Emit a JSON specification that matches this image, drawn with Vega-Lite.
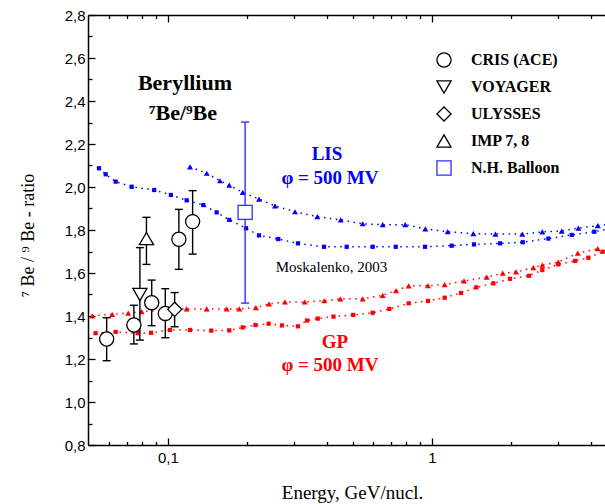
{
"$schema":"https://vega.github.io/schema/vega-lite/v6.json",
"width":517,"height":430,
"autosize":"none",
"padding":{"left":88,"top":15,"right":0,"bottom":59},
"background":"white",
"config":{"view":{"stroke":null},"axis":{"grid":false,"tickColor":"black","domainColor":"black","labelColor":"black","titleColor":"black"}},
"datasets":{
"curves":[
{"series":"LIS-sq","E":0.0548,"ratio":2.087},{"series":"LIS-sq","E":0.0581,"ratio":2.059},{"series":"LIS-sq","E":0.0634,"ratio":2.025},{"series":"LIS-sq","E":0.0729,"ratio":2.001},{"series":"LIS-sq","E":0.0887,"ratio":1.986},{"series":"LIS-sq","E":0.1026,"ratio":1.963},{"series":"LIS-sq","E":0.1177,"ratio":1.938},{"series":"LIS-sq","E":0.1361,"ratio":1.916},{"series":"LIS-sq","E":0.1529,"ratio":1.882},{"series":"LIS-sq","E":0.1707,"ratio":1.847},{"series":"LIS-sq","E":0.1975,"ratio":1.808},{"series":"LIS-sq","E":0.2212,"ratio":1.775},{"series":"LIS-sq","E":0.2617,"ratio":1.758},{"series":"LIS-sq","E":0.3108,"ratio":1.738},{"series":"LIS-sq","E":0.39,"ratio":1.722},{"series":"LIS-sq","E":0.4752,"ratio":1.722},{"series":"LIS-sq","E":0.5962,"ratio":1.722},{"series":"LIS-sq","E":0.7288,"ratio":1.722},{"series":"LIS-sq","E":0.9408,"ratio":1.722},{"series":"LIS-sq","E":1.1874,"ratio":1.727},{"series":"LIS-sq","E":1.4425,"ratio":1.733},{"series":"LIS-sq","E":1.8095,"ratio":1.738},{"series":"LIS-sq","E":2.2062,"ratio":1.743},{"series":"LIS-sq","E":2.7579,"ratio":1.76},{"series":"LIS-sq","E":3.3816,"ratio":1.777},{"series":"LIS-sq","E":4.1192,"ratio":1.792},{"series":"LIS-sq","E":4.9,"ratio":1.81},
{"series":"LIS-tri","E":0.1212,"ratio":2.094},{"series":"LIS-tri","E":0.1402,"ratio":2.064},{"series":"LIS-tri","E":0.1574,"ratio":2.029},{"series":"LIS-tri","E":0.1707,"ratio":2.009},{"series":"LIS-tri","E":0.1919,"ratio":1.975},{"series":"LIS-tri","E":0.2212,"ratio":1.944},{"series":"LIS-tri","E":0.2543,"ratio":1.912},{"series":"LIS-tri","E":0.3028,"ratio":1.885},{"series":"LIS-tri","E":0.3677,"ratio":1.862},{"series":"LIS-tri","E":0.451,"ratio":1.847},{"series":"LIS-tri","E":0.5464,"ratio":1.829},{"series":"LIS-tri","E":0.6506,"ratio":1.825},{"series":"LIS-tri","E":0.792,"ratio":1.825},{"series":"LIS-tri","E":0.9432,"ratio":1.805},{"series":"LIS-tri","E":1.1467,"ratio":1.792},{"series":"LIS-tri","E":1.4337,"ratio":1.783},{"series":"LIS-tri","E":1.7373,"ratio":1.781},{"series":"LIS-tri","E":2.198,"ratio":1.781},{"series":"LIS-tri","E":2.6167,"ratio":1.791},{"series":"LIS-tri","E":3.0989,"ratio":1.795},{"series":"LIS-tri","E":3.5826,"ratio":1.809},{"series":"LIS-tri","E":4.2431,"ratio":1.82},{"series":"LIS-tri","E":4.9,"ratio":1.83},
{"series":"GP-tri","E":0.0517,"ratio":1.4},{"series":"GP-tri","E":0.0615,"ratio":1.408},{"series":"GP-tri","E":0.0707,"ratio":1.413},{"series":"GP-tri","E":0.0795,"ratio":1.42},{"series":"GP-tri","E":0.0966,"ratio":1.426},{"series":"GP-tri","E":0.1177,"ratio":1.433},{"series":"GP-tri","E":0.1402,"ratio":1.433},{"series":"GP-tri","E":0.1669,"ratio":1.433},{"series":"GP-tri","E":0.1862,"ratio":1.433},{"series":"GP-tri","E":0.2154,"ratio":1.439},{"series":"GP-tri","E":0.2413,"ratio":1.456},{"series":"GP-tri","E":0.2774,"ratio":1.465},{"series":"GP-tri","E":0.3296,"ratio":1.465},{"series":"GP-tri","E":0.3909,"ratio":1.471},{"series":"GP-tri","E":0.4494,"ratio":1.48},{"series":"GP-tri","E":0.5464,"ratio":1.48},{"series":"GP-tri","E":0.6506,"ratio":1.496},{"series":"GP-tri","E":0.7305,"ratio":1.518},{"series":"GP-tri","E":0.8161,"ratio":1.54},{"series":"GP-tri","E":0.9657,"ratio":1.541},{"series":"GP-tri","E":1.117,"ratio":1.546},{"series":"GP-tri","E":1.3219,"ratio":1.563},{"series":"GP-tri","E":1.6113,"ratio":1.581},{"series":"GP-tri","E":1.8526,"ratio":1.599},{"series":"GP-tri","E":2.0804,"ratio":1.605},{"series":"GP-tri","E":2.4196,"ratio":1.625},{"series":"GP-tri","E":2.6167,"ratio":1.637},{"series":"GP-tri","E":3.0081,"ratio":1.651},{"series":"GP-tri","E":3.5638,"ratio":1.692},{"series":"GP-tri","E":4.2431,"ratio":1.713},
{"series":"GP-sq","E":0.0532,"ratio":1.32},{"series":"GP-sq","E":0.0634,"ratio":1.326},{"series":"GP-sq","E":0.0768,"ratio":1.32},{"series":"GP-sq","E":0.0863,"ratio":1.322},{"series":"GP-sq","E":0.1018,"ratio":1.335},{"series":"GP-sq","E":0.1212,"ratio":1.335},{"series":"GP-sq","E":0.1459,"ratio":1.332},{"series":"GP-sq","E":0.1707,"ratio":1.333},{"series":"GP-sq","E":0.1919,"ratio":1.347},{"series":"GP-sq","E":0.2145,"ratio":1.358},{"series":"GP-sq","E":0.2406,"ratio":1.364},{"series":"GP-sq","E":0.2703,"ratio":1.356},{"series":"GP-sq","E":0.3108,"ratio":1.352},{"series":"GP-sq","E":0.3362,"ratio":1.379},{"series":"GP-sq","E":0.3693,"ratio":1.388},{"series":"GP-sq","E":0.4235,"ratio":1.397},{"series":"GP-sq","E":0.5033,"ratio":1.405},{"series":"GP-sq","E":0.5962,"ratio":1.415},{"series":"GP-sq","E":0.689,"ratio":1.433},{"series":"GP-sq","E":0.8161,"ratio":1.459},{"series":"GP-sq","E":0.9657,"ratio":1.47},{"series":"GP-sq","E":1.117,"ratio":1.485},{"series":"GP-sq","E":1.2877,"ratio":1.507},{"series":"GP-sq","E":1.4716,"ratio":1.533},{"series":"GP-sq","E":1.7072,"ratio":1.552},{"series":"GP-sq","E":1.9744,"ratio":1.573},{"series":"GP-sq","E":2.3305,"ratio":1.587},{"series":"GP-sq","E":2.6167,"ratio":1.614},{"series":"GP-sq","E":3.0081,"ratio":1.64},{"series":"GP-sq","E":3.4811,"ratio":1.656},{"series":"GP-sq","E":3.9084,"ratio":1.671},{"series":"GP-sq","E":4.4318,"ratio":1.699}
],
"obs":[
{"instrument":"CRIS (ACE)","E":0.0586,"ratio":1.293,"lo":1.192,"hi":1.392},
{"instrument":"CRIS (ACE)","E":0.0743,"ratio":1.358,"lo":1.27,"hi":1.45},
{"instrument":"CRIS (ACE)","E":0.0868,"ratio":1.462,"lo":1.355,"hi":1.567},
{"instrument":"CRIS (ACE)","E":0.0977,"ratio":1.412,"lo":1.299,"hi":1.527},
{"instrument":"CRIS (ACE)","E":0.11,"ratio":1.757,"lo":1.617,"hi":1.896},
{"instrument":"CRIS (ACE)","E":0.124,"ratio":1.839,"lo":1.688,"hi":1.983},
{"instrument":"VOYAGER","E":0.0783,"ratio":1.5,"lo":1.288,"hi":1.718},
{"instrument":"ULYSSES","E":0.106,"ratio":1.431,"lo":1.35,"hi":1.509},
{"instrument":"IMP 7, 8","E":0.0829,"ratio":1.76,"lo":1.64,"hi":1.859},
{"instrument":"N.H. Balloon","E":0.196,"ratio":1.882,"lo":1.46,"hi":2.302}
],
"txtBlack":[{"E":0.116,"ratio":2.484,"label":"Beryllium"},{"E":0.114,"ratio":2.344,"label":"⁷Be/⁹Be"}],
"txtBlue":[{"E":0.4002,"ratio":2.153,"label":"LIS"},{"E":0.4108,"ratio":2.042,"label":"φ = 500 MV"}],
"txtRed":[{"E":0.4292,"ratio":1.28,"label":"GP"},{"E":0.4108,"ratio":1.172,"label":"φ = 500 MV"}],
"txtRef":[{"E":0.4163,"ratio":1.629,"label":"Moskalenko, 2003"}]
},
"resolve":{"axis":{"x":"independent","y":"independent"}},
"layer":[
{"data":{"name":"curves"},
 "mark":{"type":"line","strokeDash":[1.5,4.5],"strokeWidth":1.5,"clip":true},
 "encoding":{
  "x":{"field":"E","type":"quantitative","scale":{"type":"log","domain":[0.0498,4.52],"nice":false,"zero":false},
       "axis":{"orient":"bottom","values":[0.1,1],"labelExpr":"datum.value < 0.5 ? '0,1' : '1'","tickSize":-7,"tickWidth":1.3,"domainWidth":1.5,"labelFont":"Liberation Sans","labelFontSize":15,"labelPadding":12,"labelFlush":false,"labelOverlap":false,
               "title":"Energy, GeV/nucl.","titleFont":"Liberation Serif","titleFontSize":19,"titleFontWeight":"normal","titleX":264,"titleY":53,"titleBaseline":"alphabetic","titleAlign":"center","titleAnchor":null}},
  "y":{"field":"ratio","type":"quantitative","scale":{"domain":[0.8,2.8],"nice":false,"zero":false},
       "axis":{"orient":"left","values":[0.8,1.0,1.2,1.4,1.6,1.8,2.0,2.2,2.4,2.6,2.8],"labelExpr":"replace(format(datum.value,'.1f'),'.',',')","tickSize":-7,"tickWidth":1.3,"domainWidth":1.5,"labelFont":"Liberation Sans","labelFontSize":15,"labelPadding":10,"labelFlush":false,"labelOverlap":false,
               "title":"⁷ Be / ⁹ Be - ratio","titleFont":"Liberation Serif","titleFontSize":18,"titleFontWeight":"normal","titleX":-60,"titleY":220,"titleAngle":-90,"titleBaseline":"middle","titleAlign":"center"}},
  "color":{"field":"series","type":"nominal","scale":{"domain":["LIS-sq","LIS-tri","GP-tri","GP-sq"],"range":["#0000ff","#0000ff","#ff0000","#ff0000"]},"legend":null},
  "detail":{"field":"series"}
 }},
{"data":{"name":"curves"},
 "transform":[{"filter":"indexof(datum.series,'tri') >= 0"}],
 "mark":{"type":"point","shape":"triangle-up","filled":true,"size":36,"opacity":1,"clip":true},
 "encoding":{
  "x":{"field":"E","type":"quantitative","scale":{"type":"log","domain":[0.0498,4.52],"nice":false,"zero":false},
       "axis":{"orient":"top","values":[0.1,1],"labels":false,"tickSize":-7,"tickWidth":1.3,"domainWidth":1.5,"title":null}},
  "y":{"field":"ratio","type":"quantitative","scale":{"domain":[0.8,2.8],"nice":false,"zero":false},
       "axis":{"orient":"left","values":[0.9,1.1,1.3,1.5,1.7,1.9,2.1,2.3,2.5,2.7],"labels":false,"domain":false,"tickSize":-4,"tickWidth":1.3,"title":null}},
  "color":{"field":"series","type":"nominal","legend":null}
 }},
{"data":{"name":"curves"},
 "transform":[{"filter":"indexof(datum.series,'sq') >= 0"}],
 "mark":{"type":"point","shape":"square","filled":true,"size":18,"opacity":1,"clip":true},
 "encoding":{
  "x":{"field":"E","type":"quantitative","scale":{"type":"log","domain":[0.0498,4.52],"nice":false,"zero":false},
       "axis":{"orient":"bottom","values":[0.06,0.07,0.08,0.09,0.2,0.3,0.4,0.5,0.6,0.7,0.8,0.9,2,3,4],"labels":false,"domain":false,"tickSize":-3.5,"tickWidth":1.3,"title":null}},
  "y":{"field":"ratio","type":"quantitative","scale":{"domain":[0.8,2.8],"nice":false,"zero":false},"axis":null},
  "color":{"field":"series","type":"nominal","legend":null}
 }},
{"data":{"name":"obs"},
 "mark":{"type":"rule","strokeWidth":1.4},
 "encoding":{
  "x":{"field":"E","type":"quantitative","scale":{"type":"log","domain":[0.0498,4.52],"nice":false,"zero":false},
       "axis":{"orient":"top","values":[0.06,0.07,0.08,0.09,0.2,0.3,0.4,0.5,0.6,0.7,0.8,0.9,2,3,4],"labels":false,"domain":false,"tickSize":-3.5,"tickWidth":1.3,"title":null}},
  "y":{"field":"lo","type":"quantitative","scale":{"domain":[0.8,2.8],"nice":false,"zero":false},"axis":null},
  "y2":{"field":"hi"},
  "strokeOpacity":{"value":1},
  "stroke":{"condition":{"test":"datum.instrument == 'N.H. Balloon'","value":"#2f2fff"},"value":"black"}
 }},
{"data":{"name":"obs"},
 "mark":{"type":"tick","orient":"horizontal","size":8,"thickness":1.4,"opacity":1},
 "encoding":{
  "x":{"field":"E","type":"quantitative","scale":{"type":"log","domain":[0.0498,4.52],"nice":false,"zero":false},"axis":null},
  "y":{"field":"hi","type":"quantitative","scale":{"domain":[0.8,2.8],"nice":false,"zero":false},"axis":null},
  "fill":{"condition":{"test":"datum.instrument == 'N.H. Balloon'","value":"#2f2fff"},"value":"black"}
 }},
{"data":{"name":"obs"},
 "mark":{"type":"tick","orient":"horizontal","size":8,"thickness":1.4,"opacity":1},
 "encoding":{
  "x":{"field":"E","type":"quantitative","scale":{"type":"log","domain":[0.0498,4.52],"nice":false,"zero":false},"axis":null},
  "y":{"field":"lo","type":"quantitative","scale":{"domain":[0.8,2.8],"nice":false,"zero":false},"axis":null},
  "fill":{"condition":{"test":"datum.instrument == 'N.H. Balloon'","value":"#2f2fff"},"value":"black"}
 }},
{"data":{"name":"obs"},
 "mark":{"type":"point","fill":"white","filled":false,"size":200,"strokeWidth":1.3,"opacity":1},
 "encoding":{
  "x":{"field":"E","type":"quantitative","scale":{"type":"log","domain":[0.0498,4.52],"nice":false,"zero":false},"axis":null},
  "y":{"field":"ratio","type":"quantitative","scale":{"domain":[0.8,2.8],"nice":false,"zero":false},"axis":null},
  "shape":{"field":"instrument","type":"nominal","scale":{"domain":["CRIS (ACE)","VOYAGER","ULYSSES","IMP 7, 8","N.H. Balloon"],"range":["circle","triangle-down","diamond","triangle-up","square"]},
     "legend":{"orient":"none","legendX":348,"legendY":37,"title":null,"labelFont":"Liberation Serif","labelFontSize":16,"labelFontWeight":"bold","labelColor":"black","labelOffset":19,"rowPadding":8,"symbolSize":200,"symbolStrokeWidth":1.3,"symbolFillColor":"white","padding":0}},
  "stroke":{"field":"instrument","type":"nominal","scale":{"domain":["CRIS (ACE)","VOYAGER","ULYSSES","IMP 7, 8","N.H. Balloon"],"range":["black","black","black","black","#2f2fff"]},
     "legend":{"orient":"none","legendX":348,"legendY":37,"title":null,"labelFont":"Liberation Serif","labelFontSize":16,"labelFontWeight":"bold","labelColor":"black","labelOffset":19,"rowPadding":8,"symbolSize":200,"symbolStrokeWidth":1.3,"symbolFillColor":"white","padding":0}}
 }},
{"data":{"name":"txtBlack"},
 "mark":{"type":"text","font":"Liberation Serif","fontSize":22,"fontWeight":"bold","color":"black","align":"center","baseline":"middle"},
 "encoding":{
  "x":{"field":"E","type":"quantitative","scale":{"type":"log","domain":[0.0498,4.52],"nice":false,"zero":false},"axis":null},
  "y":{"field":"ratio","type":"quantitative","scale":{"domain":[0.8,2.8],"nice":false,"zero":false},"axis":null},
  "text":{"field":"label"}
 }},
{"data":{"name":"txtBlue"},
 "mark":{"type":"text","font":"Liberation Serif","fontSize":19,"fontWeight":"bold","color":"#0000ff","align":"center","baseline":"middle"},
 "encoding":{
  "x":{"field":"E","type":"quantitative","scale":{"type":"log","domain":[0.0498,4.52],"nice":false,"zero":false},"axis":null},
  "y":{"field":"ratio","type":"quantitative","scale":{"domain":[0.8,2.8],"nice":false,"zero":false},"axis":null},
  "text":{"field":"label"}
 }},
{"data":{"name":"txtRed"},
 "mark":{"type":"text","font":"Liberation Serif","fontSize":19,"fontWeight":"bold","color":"#ff0000","align":"center","baseline":"middle"},
 "encoding":{
  "x":{"field":"E","type":"quantitative","scale":{"type":"log","domain":[0.0498,4.52],"nice":false,"zero":false},"axis":null},
  "y":{"field":"ratio","type":"quantitative","scale":{"domain":[0.8,2.8],"nice":false,"zero":false},"axis":null},
  "text":{"field":"label"}
 }},
{"data":{"name":"txtRef"},
 "mark":{"type":"text","font":"Liberation Serif","fontSize":15,"color":"black","align":"center","baseline":"middle"},
 "encoding":{
  "x":{"field":"E","type":"quantitative","scale":{"type":"log","domain":[0.0498,4.52],"nice":false,"zero":false},"axis":null},
  "y":{"field":"ratio","type":"quantitative","scale":{"domain":[0.8,2.8],"nice":false,"zero":false},"axis":null},
  "text":{"field":"label"}
 }}
]
}
